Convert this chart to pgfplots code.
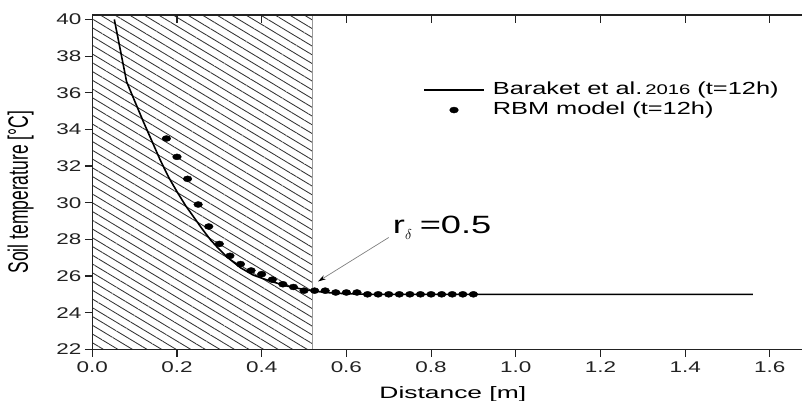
\documentclass[border=0pt]{standalone}
\usepackage{pgfplots}
\pgfplotsset{compat=1.18}
\usepackage{fontspec}
\setmainfont[FakeStretch=1.45]{Liberation Sans}
\newfontfamily\plainsans{Liberation Sans}
\newfontfamily\xlabfont[FakeStretch=1.6]{Liberation Sans}
\usetikzlibrary{patterns.meta,arrows.meta}
\definecolor{axcol}{HTML}{222222}
\begin{document}
\begin{tikzpicture}
\begin{axis}[
  at={(0,0)}, anchor=south west,
  scale only axis, width=709.7bp, height=334.3bp,
  xmin=0, xmax=1.676, ymin=22, ymax=40.24,
  axis x line*=bottom, axis y line*=left,
  axis line style={axcol, line width=1.1bp},
  tick align=outside, major tick length=7.5bp,
  tick style={axcol, line width=1.1bp},
  xtick={0,0.2,...,1.6}, ytick={22,24,...,40},
  /pgf/number format/assume math mode=true,
  xticklabel={\pgfmathprintnumber[fixed, fixed zerofill, precision=1]{\tick}},
  yticklabel={\pgfmathprintnumber[fixed, precision=0]{\tick}},
  tick label style={font=\fontsize{15.5bp}{17bp}\selectfont, text=axcol},
  xticklabel style={yshift=-1.5bp},
  xlabel={Distance [m]},
  xlabel style={font=\xlabfont\fontsize{16.5bp}{19bp}\selectfont, at={(axis description cs:0.508,0)}, anchor=base, yshift=-49bp},
  ylabel={\scalebox{1}[1.6]{\plainsans\fontsize{17.5bp}{18bp}\selectfont Soil temperature [°C]}},
  ylabel style={at={(axis description cs:0,0.47)}, anchor=south, yshift=55bp},
  legend style={at={(axis description cs:0.466,0.80)}, anchor=north west, draw=none, fill=none,
    inner sep=0pt, font=\fontsize{17.5bp}{20bp}\selectfont, column sep=8bp, row sep=4bp,
    nodes={inner sep=0pt, text height=12.5bp, text depth=3.5bp}},
  legend cell align=left,
  legend image code/.code={\draw[mark repeat=2, mark phase=2, #1] plot coordinates {(0bp,0bp) (30bp,0bp) (60bp,0bp)};},
  axis on top,
  clip=false,
]
\addplot[draw=none, pattern={Lines[angle=-31, distance=7.5bp, line width=0.85bp]}, pattern color=black!80, forget plot]
  coordinates {(0,40.24) (0.52,40.24)} \closedcycle;
\addplot[gray!80, line width=0.8bp, forget plot] coordinates {(0.52,22) (0.52,40.24)};
\addplot[black, line width=1.6bp, no marks] coordinates {
(0.052,40.0) (0.081,36.6) (0.10,35.55) (0.12,34.45) (0.14,33.4) (0.16,32.35) (0.18,31.4)
(0.20,30.6) (0.22,29.85) (0.24,29.2) (0.26,28.55) (0.28,27.95) (0.30,27.45) (0.32,27.0)
(0.35,26.45) (0.38,26.05) (0.42,25.72) (0.46,25.45) (0.50,25.26) (0.55,25.1) (0.60,25.03)
(0.65,25.0) (1.56,25.0)};
\addlegendentry{Baraket et al.\,{\fontsize{14bp}{16bp}\selectfont 2016} (t=12h)}
\addplot[only marks, mark=*, mark size=3bp, mark options={xscale=1.45, fill=black, draw=black}] coordinates {
(0.175,33.5) (0.200,32.5) (0.225,31.3) (0.250,29.9) (0.275,28.7) (0.300,27.75) (0.325,27.1)
(0.350,26.65) (0.375,26.3) (0.400,26.1) (0.425,25.8) (0.450,25.55) (0.475,25.4) (0.500,25.2)
(0.525,25.2) (0.550,25.2) (0.575,25.1) (0.600,25.1) (0.625,25.1) (0.650,25.0) (0.675,25.0)
(0.700,25.0) (0.725,25.0) (0.750,25.0) (0.775,25.0) (0.800,25.0) (0.825,25.0) (0.850,25.0)
(0.875,25.0) (0.900,25.0)};
\addlegendentry{RBM model (t=12h)}
\draw[gray, line width=0.7bp, -{Stealth[length=8bp, width=4.5bp, color=black]}]
  (axis cs:0.70,28.1) -- (axis cs:0.533,25.7);
\node[anchor=base west, inner sep=0pt, font=\fontsize{25bp}{27bp}\selectfont]
  at (axis cs:0.7095,28.33) {r\raisebox{-6bp}{\fontsize{14bp}{14bp}\selectfont$\delta$}\hspace{8bp}=0.5};
\end{axis}
\begin{axis}[
  at={(0,0)}, anchor=south west,
  scale only axis, width=709.7bp, height=334.3bp,
  xmin=0, xmax=1.676, ymin=22, ymax=40.24,
  axis x line*=top, axis y line=none,
  axis line style={axcol, line width=1.1bp},
  tick align=inside, major tick length=8bp,
  tick style={axcol, line width=1.1bp},
  xtick={0,0.2,...,1.6}, xticklabels={},
]
\end{axis}
\pgfresetboundingbox
\path[use as bounding box] (-92.3bp,-51.7bp) rectangle (709.7bp,349.3bp);
\end{tikzpicture}
\end{document}
